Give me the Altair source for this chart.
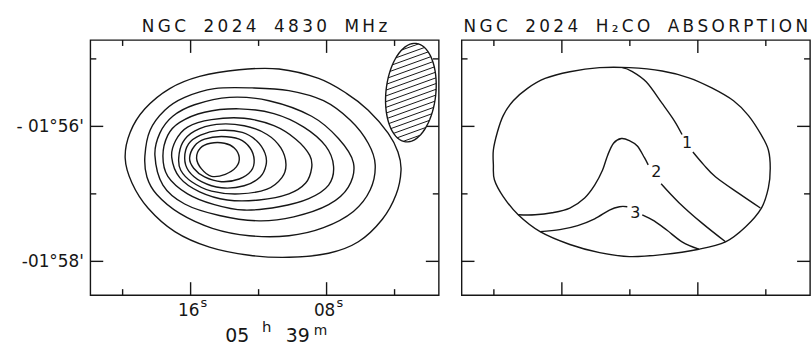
import json
import math

import altair as alt
import pandas as pd

FONT = "DejaVu Sans"
INK = "#161616"
LW = 1.4

PANEL_W, PANEL_H = 351, 257
RA_DOMAIN = [1.40, 21.90]      # seconds of RA after 05h 39m (east to the left)
DEC_DOMAIN = [-58.50, -54.72]  # arcminutes after -01 deg

RA_MAJOR = [16, 8]
RA_MINOR = [20, 12, 4]
DEC_MAJOR = [-56, -58]
DEC_MINOR = [-55, -57]
RA_LABELS = ["16", "08"]
RA_LABEL_SUP = ["s", "s"]
DEC_LABELS = ["- 01°56'", "-01°58'"]
RA_UNIT_TEXT = ["05", "h", "39", "m"]

# 4830 MHz continuum contours (RA s, Dec arcmin), outermost first
CONT_1 = [(19.85, -56.47), (19.56, -56.09), (18.69, -55.74), (17.23, -55.44), (15.47, -55.26),
          (13.14, -55.16), (10.80, -55.15), (8.47, -55.29), (6.83, -55.51), (5.55, -55.76),
          (4.38, -56.10), (3.80, -56.38), (3.62, -56.65), (3.91, -57.01), (4.73, -57.38),
          (6.13, -57.71), (7.88, -57.88), (10.22, -57.94), (12.55, -57.91), (14.89, -57.79),
          (16.93, -57.56), (18.51, -57.21), (19.45, -56.84)]
CONT_2 = [(18.69, -56.44), (18.39, -56.06), (17.52, -55.76), (16.35, -55.57), (14.60, -55.44),
          (12.38, -55.43), (10.22, -55.47), (8.18, -55.62), (6.60, -55.91), (5.55, -56.25),
          (5.14, -56.57), (5.43, -56.94), (6.42, -57.26), (8.18, -57.50), (10.22, -57.62),
          (12.55, -57.62), (14.72, -57.51), (16.64, -57.29), (17.99, -57.01), (18.57, -56.75)]
CONT_3 = [(18.10, -56.43), (17.81, -56.10), (17.05, -55.85), (15.77, -55.68), (13.72, -55.57),
          (11.39, -55.62), (8.88, -55.85), (7.30, -56.18), (6.42, -56.54), (6.72, -56.90),
          (7.88, -57.16), (9.93, -57.34), (11.97, -57.40), (14.31, -57.32), (16.35, -57.15),
          (17.63, -56.87)]
CONT_4 = [(17.63, -56.44), (17.34, -56.13), (16.64, -55.94), (15.18, -55.79), (13.14, -55.74),
          (11.10, -55.81), (9.34, -56.01), (8.06, -56.29), (7.59, -56.59), (7.88, -56.87),
          (9.05, -57.07), (10.80, -57.19), (12.85, -57.24), (14.60, -57.16), (16.18, -57.00),
          (17.34, -56.74)]
CONT_5 = [(17.11, -56.46), (16.88, -56.21), (16.18, -56.01), (14.77, -55.90), (12.85, -55.88),
          (11.10, -55.99), (9.81, -56.19), (8.99, -56.43), (8.88, -56.62), (9.23, -56.84),
          (10.22, -57.00), (11.97, -57.09), (13.84, -57.09), (15.47, -56.97), (16.64, -56.76)]
CONT_6 = [(16.70, -56.47), (16.47, -56.24), (15.77, -56.07), (14.48, -55.97), (12.85, -55.99),
          (11.50, -56.12), (10.69, -56.32), (10.39, -56.56), (10.63, -56.76), (11.50, -56.93),
          (13.14, -57.00), (14.77, -56.96), (15.94, -56.82), (16.58, -56.65)]
CONT_7 = [(16.35, -56.47), (16.12, -56.26), (15.42, -56.13), (14.31, -56.06), (12.96, -56.09),
          (12.09, -56.22), (11.62, -56.40), (11.56, -56.57), (11.91, -56.75), (12.85, -56.88),
          (14.19, -56.91), (15.36, -56.82), (16.12, -56.66)]
CONT_8 = [(16.06, -56.47), (15.77, -56.29), (15.18, -56.19), (14.19, -56.15), (13.14, -56.19),
          (12.50, -56.32), (12.26, -56.50), (12.44, -56.66), (13.14, -56.78), (14.19, -56.82),
          (15.18, -56.75), (15.82, -56.62)]
CONT_9 = [(15.65, -56.47), (15.42, -56.32), (14.83, -56.25), (14.01, -56.25), (13.43, -56.32),
          (13.14, -56.46), (13.31, -56.60), (13.96, -56.71), (14.77, -56.74), (15.36, -56.63)]

# Synthesised beam (half-power ellipse)
BEAM_CENTRE = (3.04, -55.50)   # RA s, Dec arcmin
BEAM_AXES = (88.0, 44.0)       # arcsec
BEAM_PA = -6.0                 # deg, east of north
HATCH_TILT = 20.0              # deg above horizontal
HATCH_GAP = 4.8                # arcsec between hatch lines

# H2CO absorption: edge of the mapped region
EDGE = [(20.03, -56.57), (20.03, -56.35), (19.80, -56.09), (19.45, -55.84), (18.86, -55.62),
        (18.04, -55.44), (16.99, -55.29), (15.53, -55.19), (13.78, -55.13), (12.03, -55.13),
        (10.10, -55.18), (8.53, -55.28), (7.18, -55.43), (5.90, -55.62), (5.02, -55.84),
        (4.26, -56.13), (3.85, -56.35), (3.74, -56.62), (3.85, -56.91), (4.26, -57.21),
        (5.20, -57.49), (6.37, -57.71), (7.94, -57.82), (10.10, -57.90), (12.03, -57.93),
        (13.78, -57.87), (15.53, -57.75), (17.28, -57.56), (18.57, -57.31), (19.45, -57.04),
        (19.97, -56.79)]

# optical-depth contours, each split around its label
LEVEL_1A = [(12.44, -55.13), (11.91, -55.18), (11.04, -55.34), (10.10, -55.66), (9.40, -55.91),
            (8.93, -56.12)]
LEVEL_1B = [(8.29, -56.38), (7.65, -56.57), (6.95, -56.75), (5.61, -56.99), (4.32, -57.21)]
LEVEL_2A = [(18.57, -57.31), (17.58, -57.31), (16.58, -57.28), (15.53, -57.21), (14.66, -57.06),
            (14.07, -56.87), (13.61, -56.65), (13.31, -56.43), (12.96, -56.25), (12.50, -56.18),
            (12.03, -56.21), (11.56, -56.29), (11.15, -56.46), (10.92, -56.57)]
LEVEL_2B = [(10.16, -56.85), (9.11, -57.13), (7.77, -57.43), (6.37, -57.71)]
LEVEL_3A = [(17.28, -57.56), (16.12, -57.53), (15.07, -57.47), (14.07, -57.37), (13.20, -57.24),
            (12.61, -57.19), (12.15, -57.19)]
LEVEL_3B = [(11.27, -57.31), (10.57, -57.40), (9.81, -57.54), (8.93, -57.71), (7.94, -57.82)]
LEVEL_TEXT = ["1", "2", "3"]
LEVEL_TEXT_RA = [8.64, 10.45, 11.68]
LEVEL_TEXT_DEC = [-56.24, -56.68, -57.28]

LEFT_TITLE = "NGC 2024 4830 MHz"
RIGHT_TITLE = "NGC 2024 H₂CO ABSORPTION"

X_SCALE = alt.Scale(domain=RA_DOMAIN, reverse=True, nice=False, zero=False)
Y_SCALE = alt.Scale(domain=DEC_DOMAIN, nice=False, zero=False)

THIN, NBSP = "\u2009", "\u00a0"


def tracked(text):
    # wide lettering: thin spaces between letters, wider gaps between words
    words = [THIN.join(w) for w in text.split(" ")]
    return (THIN + NBSP * 2 + THIN).join(words)


def label_expr(values, labels):
    expr = json.dumps(labels[-1])
    for v, lab in zip(values[-2::-1], labels[-2::-1]):
        expr = f"datum.value == {v} ? {json.dumps(lab)} : {expr}"
    return expr


def path_frame(paths):
    rows = []
    for pid, pts in enumerate(paths):
        for k, (ra, dec) in enumerate(pts):
            rows.append({"path": pid, "k": k, "ra": ra, "dec": dec})
    return pd.DataFrame(rows)


class Panel:
    def __init__(self, y_axis=None):
        self.y_axis = y_axis

    def x(self):
        return alt.X("ra:Q", scale=X_SCALE, axis=None)

    def y(self):
        return alt.Y("dec:Q", scale=Y_SCALE, axis=self.y_axis)

    def lines(self, paths, interp):
        return alt.Chart(path_frame(paths)).mark_line(
            interpolate=interp, color=INK, strokeWidth=LW
        ).encode(x=self.x(), y=self.y(), detail="path:N", order="k:Q")

    def ticks(self):
        out = []
        for values, length in ((RA_MAJOR, 13), (RA_MINOR, 6)):
            df = pd.DataFrame({"ra": values})
            for y0, y1 in ((PANEL_H, PANEL_H - length), (0, length)):
                out.append(alt.Chart(df).mark_rule(color=INK, strokeWidth=LW).encode(
                    x=self.x(), y=alt.value(y0), y2=alt.value(y1)))
        for values, length in ((DEC_MAJOR, 13), (DEC_MINOR, 6)):
            df = pd.DataFrame({"dec": values})
            for x0, x1 in ((0, length), (PANEL_W, PANEL_W - length)):
                out.append(alt.Chart(df).mark_rule(color=INK, strokeWidth=LW).encode(
                    y=self.y(), x=alt.value(x0), x2=alt.value(x1)))
        return out

    def ra_labels(self):
        df = pd.DataFrame({"ra": RA_MAJOR, "txt": RA_LABELS, "sup": RA_LABEL_SUP})
        base = alt.Chart(df)
        digits = base.mark_text(font=FONT, fontSize=17, color=INK, align="center",
                                baseline="alphabetic", dx=-2).encode(
            x=self.x(), y=alt.value(PANEL_H + 21), text="txt:N")
        sup = base.mark_text(font=FONT, fontSize=13, color=INK, align="left",
                             baseline="alphabetic", dx=10).encode(
            x=self.x(), y=alt.value(PANEL_H + 12), text="sup:N")
        # axis title: 05h 39m with raised unit letters
        unit = []
        spots = [(148, 47, 19, "center"), (173, 37, 15, "left"),
                 (209, 47, 19, "center"), (225, 40, 14, "left")]
        for txt, (px, dy, size, align) in zip(RA_UNIT_TEXT, spots):
            unit.append(alt.Chart(pd.DataFrame({"t": [txt]})).mark_text(
                font=FONT, fontSize=size, color=INK, align=align, baseline="alphabetic"
            ).encode(x=alt.value(px), y=alt.value(PANEL_H + dy), text="t:N"))
        return [digits, sup, *unit]

    def beam(self):
        cosd = math.cos(math.radians(1 + 57 / 60))
        ra0, dec0 = BEAM_CENTRE
        a, b = BEAM_AXES[0] / 2, BEAM_AXES[1] / 2
        pa = math.radians(BEAM_PA)
        d = (-math.sin(pa), math.cos(pa))
        e = (math.cos(pa), math.sin(pa))

        def radec(x, y):
            return ra0 - x / (15 * cosd), dec0 + y / 60

        outline = []
        for i in range(72):
            t = 2 * math.pi * i / 72
            x = a * math.cos(t) * d[0] + b * math.sin(t) * e[0]
            y = a * math.cos(t) * d[1] + b * math.sin(t) * e[1]
            outline.append(radec(x, y))

        h = math.radians(HATCH_TILT)
        u = (math.cos(h), math.sin(h))
        n = (-math.sin(h), math.cos(h))
        dot = lambda p, q: p[0] * q[0] + p[1] * q[1]
        ud, ue, nd, ne = dot(u, d), dot(u, e), dot(n, d), dot(n, e)
        qa = ud ** 2 / a ** 2 + ue ** 2 / b ** 2
        segs = []
        for k in range(-30, 31):
            s = k * HATCH_GAP
            qb = 2 * s * (nd * ud / a ** 2 + ne * ue / b ** 2)
            qc = s ** 2 * (nd ** 2 / a ** 2 + ne ** 2 / b ** 2) - 1
            disc = qb ** 2 - 4 * qa * qc
            if disc <= 0:
                continue
            t1 = (-qb - math.sqrt(disc)) / (2 * qa)
            t2 = (-qb + math.sqrt(disc)) / (2 * qa)
            p1 = radec(s * n[0] + t1 * u[0], s * n[1] + t1 * u[1])
            p2 = radec(s * n[0] + t2 * u[0], s * n[1] + t2 * u[1])
            segs.append({"ra": p1[0], "dec": p1[1], "ra2": p2[0], "dec2": p2[1]})

        edge = self.lines([outline], "linear-closed")
        hatch = alt.Chart(pd.DataFrame(segs)).mark_rule(color=INK, strokeWidth=1.0).encode(
            x=self.x(), y=self.y(), x2="ra2:Q", y2="dec2:Q")
        return [hatch, edge]


y_axis = alt.Axis(values=DEC_MAJOR, labelExpr=label_expr(DEC_MAJOR, DEC_LABELS), ticks=False,
                  domain=False, grid=False, labelFont=FONT, labelFontSize=17, labelColor=INK,
                  labelPadding=7, minExtent=90, maxExtent=90, title=None)

left = Panel(y_axis)
continuum = alt.layer(
    left.lines([CONT_1, CONT_2, CONT_3, CONT_4, CONT_5, CONT_6, CONT_7, CONT_8, CONT_9],
               "cardinal-closed"),
    *left.beam(),
    *left.ticks(),
    *left.ra_labels(),
).properties(width=PANEL_W, height=PANEL_H, title=tracked(LEFT_TITLE))

right = Panel()
labels_df = pd.DataFrame({"txt": LEVEL_TEXT, "ra": LEVEL_TEXT_RA, "dec": LEVEL_TEXT_DEC})
absorption = alt.layer(
    right.lines([EDGE], "cardinal-closed"),
    right.lines([LEVEL_1A, LEVEL_1B, LEVEL_2A, LEVEL_2B, LEVEL_3A, LEVEL_3B], "cardinal"),
    alt.Chart(labels_df).mark_text(font=FONT, fontSize=16, color=INK).encode(
        x=right.x(), y=right.y(), text="txt:N"),
    *right.ticks(),
).properties(width=PANEL_W, height=PANEL_H, title=tracked(RIGHT_TITLE))

chart = alt.hconcat(continuum, absorption, spacing=19).properties(
    padding={"left": 0, "right": 0, "top": 16, "bottom": 0}, background="white"
).configure_view(stroke=INK, strokeWidth=LW).configure_title(
    font=FONT, fontSize=17, fontWeight="normal", color=INK, anchor="middle", offset=3
)

chart.save("out.html", embed_options={"renderer": "svg", "actions": False})
